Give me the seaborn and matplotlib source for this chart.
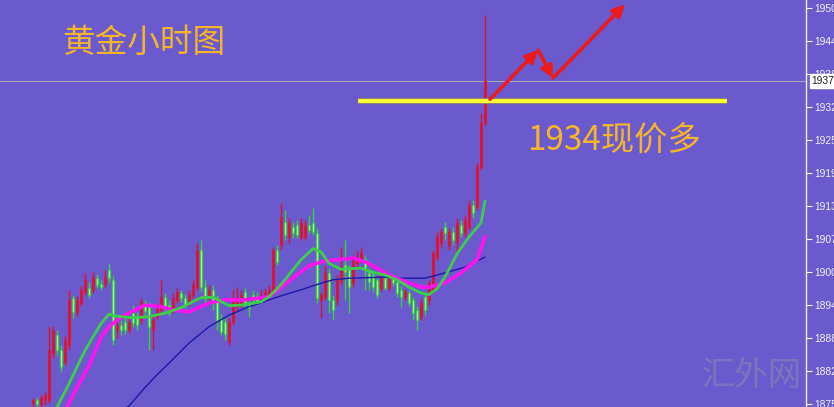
import matplotlib
matplotlib.use("Agg")
import matplotlib.pyplot as plt
import matplotlib.transforms as mtransforms
import numpy as np
import seaborn as sns

# Gold 1h candles (oldest first)
opens = [1876.0, 1876.5, 1875.8, 1876.5, 1876.5, 1885.4, 1888.9, 1886.0, 1883.7, 1886.9,
         1895.9, 1893.2, 1894.9, 1897.0, 1897.8, 1897.4, 1899.6, 1898.5, 1898.5, 1901.2,
         1899.3, 1889.8, 1890.7, 1891.3, 1889.8, 1893.0, 1892.1, 1891.7, 1894.5, 1894.2,
         1889.8, 1892.3, 1893.6, 1896.1, 1894.5, 1893.6, 1895.5, 1896.8, 1895.9, 1894.9,
         1896.4, 1897.9, 1904.9, 1897.9, 1896.1, 1897.4, 1895.5, 1892.1, 1891.3, 1887.5,
         1891.3, 1894.4, 1894.9, 1897.0, 1894.9, 1896.4, 1896.2, 1895.5, 1895.9, 1896.4,
         1897.0, 1904.9, 1905.9, 1910.3, 1907.4, 1909.3, 1909.7, 1907.4, 1907.4, 1909.7,
         1910.1, 1908.2, 1895.5, 1896.1, 1900.6, 1895.5, 1895.5, 1899.3, 1902.1, 1901.2,
         1898.7, 1902.5, 1903.1, 1903.3, 1900.6, 1900.2, 1899.3, 1897.8, 1899.6, 1897.8,
         1899.6, 1898.9, 1897.4, 1896.1, 1896.8, 1895.5, 1893.6, 1892.3, 1896.1, 1895.5,
         1897.4, 1903.6, 1906.3, 1909.3, 1905.9, 1908.4, 1906.5, 1909.7, 1908.2, 1909.3,
         1913.5, 1913.1, 1920.7, 1929.0]
closes = [1876.5, 1875.8, 1876.9, 1877.5, 1886.0, 1889.8, 1886.0, 1882.8, 1887.9, 1895.5,
          1893.2, 1895.5, 1897.4, 1899.3, 1896.4, 1899.8, 1898.3, 1897.9, 1899.8, 1899.6,
          1887.9, 1890.7, 1889.8, 1889.8, 1891.3, 1891.1, 1890.7, 1895.1, 1893.4, 1890.4,
          1891.7, 1894.2, 1896.1, 1894.2, 1893.0, 1895.9, 1897.0, 1895.9, 1894.5, 1896.4,
          1898.3, 1904.9, 1897.9, 1896.1, 1897.4, 1895.1, 1891.7, 1889.4, 1889.0, 1891.3,
          1895.1, 1895.9, 1896.4, 1894.9, 1894.0, 1895.5, 1895.1, 1896.4, 1897.0, 1897.4,
          1904.9, 1902.7, 1911.2, 1907.8, 1910.1, 1908.2, 1907.8, 1910.1, 1909.7, 1908.7,
          1908.4, 1895.9, 1896.4, 1900.6, 1895.5, 1893.6, 1899.3, 1901.7, 1900.8, 1897.9,
          1903.1, 1903.6, 1904.4, 1901.2, 1898.9, 1897.9, 1896.4, 1899.8, 1897.8, 1899.6,
          1898.7, 1896.8, 1896.1, 1897.0, 1894.9, 1893.0, 1891.7, 1894.9, 1893.6, 1898.7,
          1904.4, 1907.4, 1908.4, 1908.2, 1908.4, 1906.8, 1910.1, 1908.2, 1910.6, 1913.5,
          1912.0, 1920.7, 1929.0, 1937.0]
highs = [1876.9, 1877.1, 1877.5, 1878.1, 1890.4, 1890.6, 1889.8, 1886.9, 1888.9, 1897.4,
         1896.4, 1896.2, 1898.1, 1900.6, 1898.9, 1900.8, 1900.4, 1899.3, 1901.2, 1902.5,
         1900.0, 1891.7, 1891.7, 1892.1, 1892.6, 1894.5, 1893.2, 1895.9, 1895.5, 1895.1,
         1892.4, 1894.9, 1899.3, 1896.8, 1895.5, 1896.8, 1897.8, 1897.4, 1896.6, 1897.4,
         1899.3, 1906.3, 1906.8, 1899.3, 1898.3, 1898.3, 1896.4, 1892.8, 1892.1, 1892.1,
         1897.4, 1897.9, 1897.4, 1897.8, 1895.9, 1897.4, 1897.0, 1897.4, 1897.8, 1898.3,
         1905.5, 1905.9, 1913.9, 1912.5, 1911.0, 1910.3, 1910.6, 1911.0, 1910.6, 1911.6,
         1912.9, 1909.1, 1897.0, 1902.1, 1901.6, 1896.4, 1900.2, 1905.5, 1906.8, 1902.1,
         1904.0, 1904.9, 1905.5, 1904.0, 1901.6, 1901.2, 1899.8, 1900.4, 1900.2, 1900.2,
         1900.2, 1899.6, 1898.1, 1897.6, 1897.4, 1896.1, 1894.4, 1895.9, 1896.8, 1899.3,
         1904.9, 1908.4, 1909.1, 1910.3, 1909.1, 1909.3, 1911.0, 1910.6, 1911.6, 1914.4,
         1914.4, 1921.5, 1930.9, 1949.5]
lows = [1875.2, 1875.2, 1875.2, 1875.6, 1876.0, 1884.5, 1885.1, 1881.8, 1883.2, 1886.0,
        1892.1, 1892.4, 1894.4, 1896.4, 1895.9, 1896.8, 1897.8, 1897.4, 1897.9, 1898.7,
        1886.9, 1888.3, 1888.9, 1889.1, 1889.2, 1890.4, 1889.8, 1890.9, 1892.6, 1886.0,
        1886.0, 1891.7, 1893.0, 1893.6, 1892.4, 1893.0, 1894.9, 1895.1, 1894.0, 1894.4,
        1895.9, 1897.4, 1897.0, 1894.5, 1895.5, 1893.6, 1889.8, 1888.9, 1887.9, 1886.9,
        1890.7, 1893.6, 1894.0, 1894.0, 1892.3, 1894.9, 1894.5, 1895.1, 1895.5, 1895.9,
        1896.4, 1902.1, 1904.9, 1906.8, 1906.3, 1907.2, 1907.2, 1906.8, 1906.8, 1908.2,
        1907.8, 1894.9, 1892.1, 1895.5, 1893.0, 1891.7, 1894.5, 1898.3, 1895.5, 1893.0,
        1897.9, 1901.9, 1902.5, 1897.4, 1897.4, 1897.0, 1895.9, 1897.2, 1897.4, 1897.2,
        1898.1, 1896.1, 1894.2, 1895.5, 1894.4, 1891.7, 1889.8, 1891.7, 1892.6, 1894.5,
        1896.8, 1903.1, 1905.3, 1906.8, 1904.9, 1905.9, 1904.4, 1907.4, 1907.4, 1908.7,
        1911.0, 1912.5, 1920.1, 1928.6]

# moving averages, sampled at some candle indices
ma_fast_idx = [4, 6, 9, 11, 13, 15, 17, 19, 21, 25, 29, 33, 37, 40, 42, 45, 49, 52, 57, 59,
               61, 63, 67, 70, 72, 74, 77, 79, 82, 84, 88, 91, 94, 97, 99, 101, 103, 106,
               109, 112, 113]
ma_fast = [1872.2, 1875.2, 1879.6, 1882.8, 1885.9, 1888.5, 1891.0, 1892.8, 1892.4, 1892.1,
           1892.3, 1893.0, 1894.0, 1895.2, 1895.9, 1896.0, 1894.4, 1894.5, 1895.1, 1896.1,
           1897.6, 1899.3, 1903.1, 1905.2, 1904.6, 1902.4, 1901.3, 1901.4, 1901.5, 1900.9,
           1900.2, 1899.3, 1897.9, 1896.8, 1896.5, 1897.6, 1899.8, 1904.2, 1907.4, 1910.1,
           1914.2]
ma_mid_idx = [6, 8, 11, 14, 17, 19, 21, 24, 28, 32, 35, 39, 44, 48, 53, 57, 59, 62, 64, 67,
              69, 72, 76, 80, 83, 86, 89, 94, 97, 99, 103, 107, 111, 113]
ma_mid = [1872.0, 1874.5, 1878.9, 1883.0, 1888.4, 1890.4, 1891.7, 1893.0, 1894.5, 1894.2,
          1893.6, 1893.2, 1894.9, 1895.5, 1895.5, 1895.9, 1896.1, 1897.8, 1899.1, 1900.8,
          1901.9, 1902.7, 1903.1, 1903.4, 1902.7, 1901.5, 1900.2, 1898.7, 1897.9, 1897.9,
          1898.7, 1900.6, 1903.1, 1907.5]
ma_slow_idx = [22, 24, 28, 31, 34, 39, 44, 49, 54, 57, 59, 63, 67, 71, 75, 79, 88, 92, 98,
               103, 108, 113]
ma_slow = [1874.5, 1875.4, 1878.9, 1881.3, 1883.5, 1887.3, 1890.4, 1892.6, 1894.2, 1894.9,
           1895.5, 1896.5, 1897.4, 1898.4, 1899.3, 1899.6, 1899.8, 1899.6, 1899.6, 1900.6,
           1901.7, 1903.6]

tick_values = [1875.80, 1882.05, 1888.30, 1894.55, 1900.80, 1907.05, 1913.30,
               1919.55, 1925.80, 1932.05, 1938.30, 1944.55, 1950.80]
last_price = 1937.0
support_level = 1933.2
# hand-drawn projection arrow (candle index, price)
arrow_x = [114.25, 126.25, 130.0, 148.0]
arrow_y = [1933.5, 1942.8, 1937.5, 1951.5]

sns.set_style("white")
plt.rcParams["font.family"] = ["Noto Sans CJK SC", "DejaVu Sans"]

bg = "#6a5acd"
up_color = "#e3102b"
down_edge = "#33d43f"
down_face = "#d6f7b8"
axis_font = "Liberation Sans"

fig = plt.figure(figsize=(8.34, 4.07), dpi=100, facecolor=bg)
ax = fig.add_axes([0, 0, 806 / 834, 1])
ax.set_facecolor(bg)

idx = np.arange(len(closes))
o = np.array(opens)
c = np.array(closes)
up = c >= o

# wicks
ax.vlines(idx[up], np.array(lows)[up], np.array(highs)[up], color=up_color, lw=1.0, zorder=2)
ax.vlines(idx[~up], np.array(lows)[~up], np.array(highs)[~up], color=down_edge, lw=1.0, zorder=2)
# bodies
body = np.maximum(np.abs(c - o), 0.35)
ax.bar(idx[up], body[up], bottom=o[up], width=0.7, color=up_color,
       edgecolor=up_color, linewidth=0.5, zorder=3)
ax.bar(idx[~up], body[~up], bottom=c[~up], width=0.7, color=down_face,
       edgecolor=down_edge, linewidth=0.9, zorder=3)

# moving averages
sns.lineplot(x=ma_slow_idx, y=ma_slow, ax=ax, color="#1a1aa8", lw=1.0, zorder=4)
sns.lineplot(x=ma_mid_idx, y=ma_mid, ax=ax, color="#ff14f0", lw=2.6, zorder=5)
sns.lineplot(x=ma_fast_idx, y=ma_fast, ax=ax, color="#3ccf4c", lw=2.0, zorder=6)

# current price line
ax.axhline(last_price, color="#a9a6b8", lw=0.8, zorder=1)

# support line
ax.hlines(support_level, 81.25, 173.5, color="#8c8670", lw=4.5, zorder=7)
ax.hlines(support_level, 81.25, 173.5, color="#ffff33", lw=2.8, zorder=8)

# projection arrows
for i in range(len(arrow_x) - 1):
    ax.annotate("", xy=(arrow_x[i + 1], arrow_y[i + 1]), xytext=(arrow_x[i], arrow_y[i]),
                arrowprops=dict(arrowstyle="-|>,head_length=0.5,head_width=0.25",
                                color="#ee1a1a", lw=2.6, mutation_scale=14,
                                shrinkA=0, shrinkB=0),
                zorder=9)

ax.set_xlim(-8.25, 193.25)
ax.set_ylim(1875.2, 1952.3)
ax.set_xticks([])
ax.set_yticks(tick_values)
ax.set_yticklabels([f"{v:.2f}" for v in tick_values])
ax.yaxis.tick_right()
ax.tick_params(axis="y", colors="#f2f2f2", labelsize=7.4, length=4, width=0.8,
               direction="out", pad=2)
for lab in ax.get_yticklabels():
    lab.set_family(axis_font)
for side in ["top", "left", "bottom"]:
    ax.spines[side].set_visible(False)
ax.spines["right"].set_color("#f2f2f2")
ax.spines["right"].set_linewidth(1.0)
ax.set_xlabel("")
ax.set_ylabel("")

# price tag on the axis
trans = mtransforms.blended_transform_factory(ax.transAxes, ax.transData)
ax.text(1.007, last_price, f"{last_price:.2f}", transform=trans, va="center", ha="left",
        fontsize=7.4, family=axis_font, color="#202020", zorder=10, clip_on=False,
        bbox=dict(boxstyle="square,pad=0.2", fc="white", ec="white"))

# labels
gold = "#f5b52a"
ax.text(62 / 806, 1 - 43 / 407, "黄金小时图", transform=ax.transAxes, color=gold,
        fontsize=23.5, va="center", ha="left", zorder=10)
ax.text(527 / 806, 1 - 140 / 407, "1934现价多", transform=ax.transAxes, color=gold,
        fontsize=24, va="center", ha="left", zorder=10)
ax.text(752 / 806, 1 - 375 / 407, "汇外网", transform=ax.transAxes, color="#938fb0",
        fontsize=24, va="center", ha="center", alpha=0.5, zorder=1, fontweight="light")

fig.savefig("out.png", dpi=100, facecolor=bg)
